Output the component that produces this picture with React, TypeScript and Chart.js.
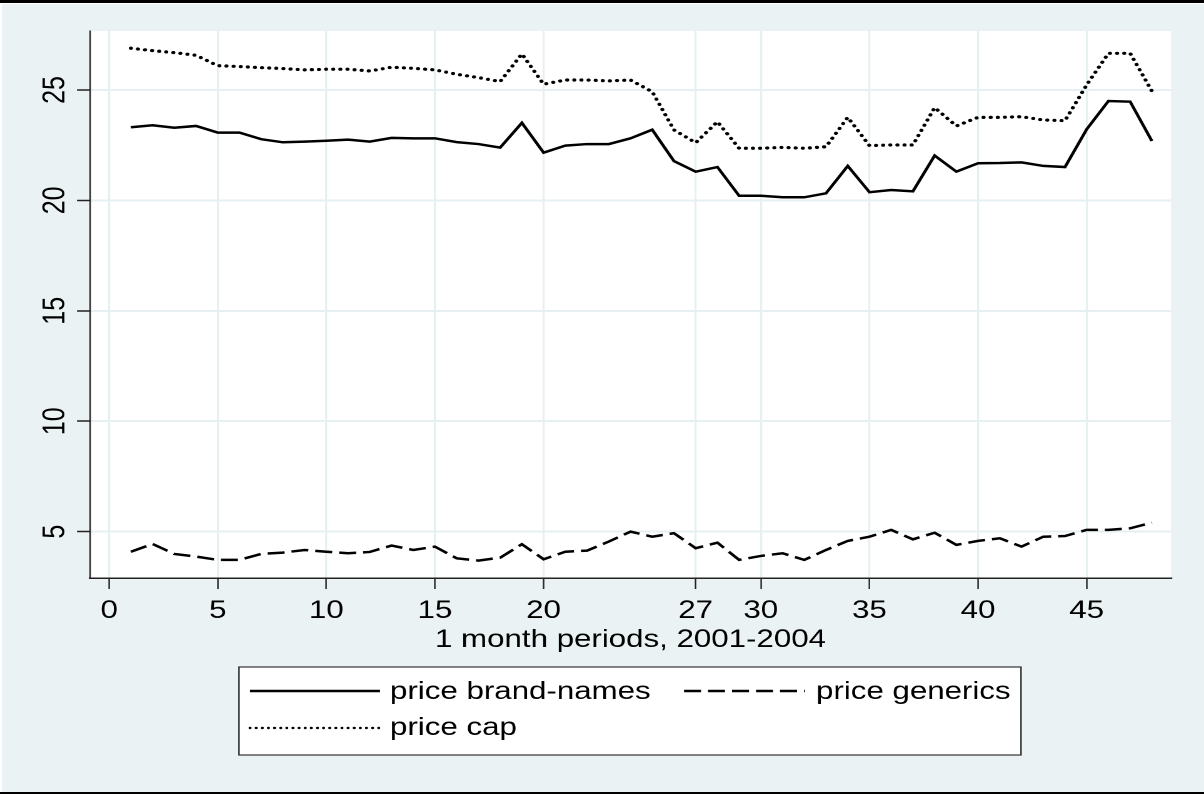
import React, { useEffect, useRef } from "react";
import { Chart, registerables } from "chart.js";

Chart.register(...registerables);

// ---------------- data ----------------
const periods = [
  1, 2, 3, 4, 5, 6, 7, 8, 9, 10, 11, 12, 13, 14, 15, 16, 17, 18, 19, 20, 21, 22, 23, 24,
  25, 26, 27, 28, 29, 30, 31, 32, 33, 34, 35, 36, 37, 38, 39, 40, 41, 42, 43, 44, 45, 46, 47, 48,
];

const brandNames = [
  23.31, 23.4, 23.29, 23.37, 23.07, 23.07, 22.77, 22.63, 22.66, 22.7, 22.75, 22.66,
  22.83, 22.81, 22.81, 22.64, 22.55, 22.39, 23.51, 22.16, 22.48, 22.55, 22.55, 22.81,
  23.2, 21.78, 21.3, 21.51, 20.21, 20.21, 20.14, 20.14, 20.32, 21.56, 20.37, 20.47,
  20.41, 22.03, 21.3, 21.68, 21.69, 21.72, 21.56, 21.51, 23.22, 24.5, 24.47, 22.69,
];

const generics = [
  4.09, 4.44, 3.99, 3.87, 3.72, 3.72, 3.99, 4.05, 4.17, 4.09, 4.02, 4.08,
  4.37, 4.17, 4.32, 3.79, 3.69, 3.82, 4.43, 3.75, 4.09, 4.14, 4.55, 5.0,
  4.77, 4.93, 4.25, 4.5, 3.72, 3.9, 4.02, 3.72, 4.17, 4.58, 4.77, 5.08,
  4.65, 4.95, 4.4, 4.58, 4.7, 4.32, 4.77, 4.8, 5.08, 5.08, 5.15, 5.41,
];

const priceCap = [
  26.89, 26.78, 26.69, 26.57, 26.1, 26.06, 26.01, 25.97, 25.91, 25.94, 25.94, 25.86,
  26.03, 25.98, 25.91, 25.71, 25.56, 25.38, 26.63, 25.26, 25.45, 25.45, 25.41, 25.45,
  24.92, 23.19, 22.61, 23.56, 22.36, 22.36, 22.4, 22.36, 22.43, 23.76, 22.48, 22.51,
  22.51, 24.2, 23.37, 23.76, 23.76, 23.79, 23.64, 23.61, 25.23, 26.66, 26.66, 24.95,
];

const xTicks = [0, 5, 10, 15, 20, 27, 30, 35, 40, 45];
const yTicks = [5, 10, 15, 20, 25];
const seriesLabels = ["price brand-names", "price generics", "price cap"];
const xTitle = "1 month periods, 2001-2004";

// ---------------- layout / style ----------------
const W = 1204;
const H = 794;
const CW = 963; // canvas drawn narrower and stretched horizontally (like the source image)
const SX = W / CW;
const X = (r: number) => r / SX; // real page x -> canvas x

const BG = "#EAF2F3";
const GRID = "#E6EFF1";
const AXIS = "#222";
const FONT = '"Liberation Sans", Arial, Helvetica, sans-serif';
const FS = 25;

const DOT = [0.1, 5.6];
const DASH = [13.6, 5.6];

export default function App() {
  const ref = useRef<HTMLCanvasElement>(null);

  useEffect(() => {
    document.body.style.margin = "0";
    const canvas = ref.current!;
    Chart.defaults.font.family = FONT;
    Chart.defaults.font.size = FS;
    Chart.defaults.color = "#000";

    const bgPlugin = {
      id: "stataBg",
      beforeDraw(chart: any) {
        const ctx = chart.ctx;
        const a = chart.chartArea;
        ctx.save();
        ctx.fillStyle = "#fff";
        ctx.fillRect(0, 0, CW, H);
        ctx.fillStyle = BG;
        ctx.fillRect(X(2), 4, CW - X(2), 788);
        ctx.fillStyle = "#000";
        ctx.fillRect(0, 0, CW, 3);
        ctx.fillRect(0, 792, CW, 2);
        ctx.fillStyle = "#fff";
        ctx.fillRect(a.left, a.top, a.right - a.left, a.bottom - a.top);
        ctx.restore();
      },
    };

    const overlayPlugin = {
      id: "stataOverlay",
      afterDraw(chart: any) {
        const ctx = chart.ctx;
        const a = chart.chartArea;
        ctx.save();
        ctx.font = `${FS}px ${FONT}`;
        ctx.fillStyle = "#000";
        ctx.textAlign = "center";
        ctx.textBaseline = "middle";
        ctx.fillText(xTitle, (a.left + a.right) / 2, 640);

        // legend box
        const bx = X(239);
        const bw = X(1021) - X(239);
        ctx.fillStyle = "#fff";
        ctx.fillRect(bx, 667, bw, 88);
        ctx.strokeStyle = "#333";
        ctx.lineWidth = 1.2;
        ctx.strokeRect(bx, 667, bw, 88);

        const sample = (x1: number, x2: number, y: number, dash: number[], cap: CanvasLineCap, lw: number) => {
          ctx.beginPath();
          ctx.setLineDash(dash);
          ctx.lineCap = cap;
          ctx.lineWidth = lw;
          ctx.strokeStyle = "#000";
          ctx.moveTo(X(x1), y);
          ctx.lineTo(X(x2), y);
          ctx.stroke();
        };
        sample(250, 380, 691, [], "butt", 2.5);
        sample(684, 805, 691, DASH, "butt", 2.5);
        sample(250, 380, 728, [0.1, 4.8], "round", 2.4);
        ctx.setLineDash([]);

        ctx.fillStyle = "#000";
        ctx.textAlign = "left";
        ctx.textBaseline = "alphabetic";
        ctx.fillText(seriesLabels[0], X(390), 699);
        ctx.fillText(seriesLabels[1], X(816), 699);
        ctx.fillText(seriesLabels[2], X(390), 735);
        ctx.restore();
      },
    };

    const pts = (vals: number[]) => periods.map((p, i) => ({ x: p, y: vals[i] }));

    const chart = new Chart(canvas, {
      type: "line",
      data: {
        datasets: [
          {
            label: seriesLabels[0],
            data: pts(brandNames),
            borderColor: "#000",
            borderWidth: 2.5,
            pointRadius: 0,
            tension: 0,
            fill: false,
            borderJoinStyle: "miter",
          },
          {
            label: seriesLabels[1],
            data: pts(generics),
            borderColor: "#000",
            borderWidth: 2.5,
            borderDash: DASH,
            pointRadius: 0,
            tension: 0,
            fill: false,
          },
          {
            label: seriesLabels[2],
            data: pts(priceCap),
            borderColor: "#000",
            borderWidth: 3.2,
            borderDash: DOT,
            borderCapStyle: "round",
            pointRadius: 0,
            tension: 0,
            fill: false,
          },
        ],
      },
      options: {
        animation: false,
        responsive: false,
        devicePixelRatio: 2,
        events: [],
        layout: { padding: { left: 0, top: 31, right: CW - X(1171), bottom: 0 } },
        plugins: {
          legend: { display: false },
          tooltip: { enabled: false },
          title: { display: false },
        },
        scales: {
          x: {
            type: "linear",
            min: -0.88,
            max: 48.88,
            afterBuildTicks: (s: any) => {
              s.ticks = xTicks.map((v) => ({ value: v }));
            },
            afterFit: (s: any) => {
              s.height = H - 578;
            },
            grid: {
              color: GRID,
              lineWidth: 1.6,
              tickColor: AXIS,
              tickWidth: 1.2,
              tickLength: 11,
            },
            border: { color: AXIS, width: 1.5 },
            ticks: {
              color: "#000",
              font: { size: FS, family: FONT },
              padding: 7,
              minRotation: 0,
              maxRotation: 0,
              autoSkip: false,
              callback: (v: any) => String(v),
            },
          },
          y: {
            type: "linear",
            min: 2.9,
            max: 27.67,
            afterBuildTicks: (s: any) => {
              s.ticks = yTicks.map((v) => ({ value: v }));
            },
            afterFit: (s: any) => {
              s.width = X(90);
            },
            grid: {
              color: GRID,
              lineWidth: 2,
              tickColor: AXIS,
              tickWidth: 1.5,
              tickLength: X(13),
            },
            border: { color: AXIS, width: 1.2 },
            ticks: {
              color: "#000",
              font: { size: FS, family: FONT },
              padding: 2.9,
              minRotation: 90,
              maxRotation: 90,
              crossAlign: "center",
              autoSkip: false,
              callback: (v: any) => String(v),
            },
          },
        },
      },
      plugins: [bgPlugin, overlayPlugin],
    } as any);

    return () => chart.destroy();
  }, []);

  return (
    <div style={{ position: "relative", width: W, height: H, overflow: "hidden" }}>
      <canvas
        ref={ref}
        width={CW}
        height={H}
        style={{ position: "absolute", left: 0, top: 0, transform: `scaleX(${SX})`, transformOrigin: "0 0" }}
      />
    </div>
  );
}
